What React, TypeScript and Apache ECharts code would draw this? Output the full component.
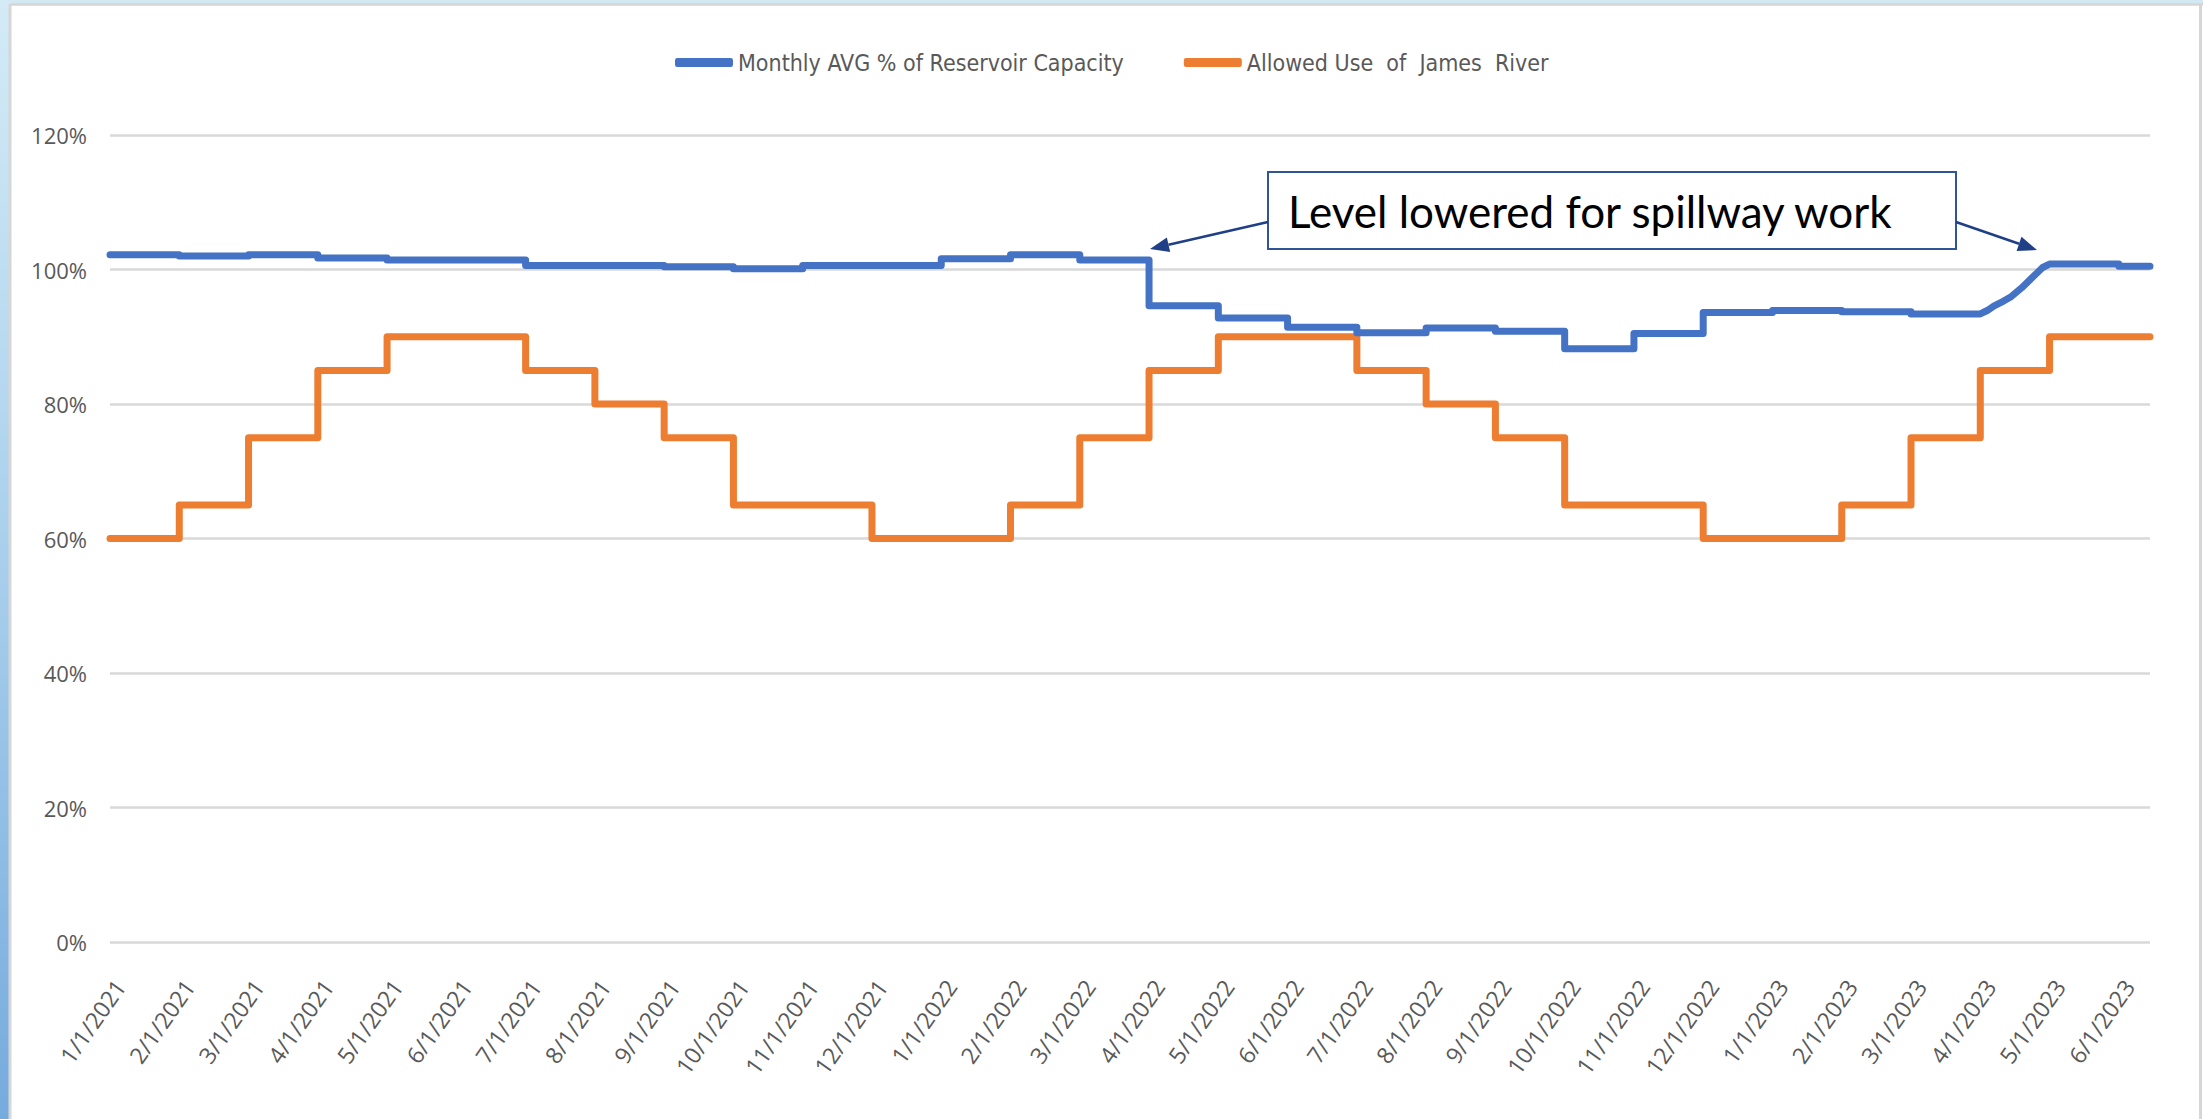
import React, { useEffect, useRef } from "react";
import * as echarts from "echarts";

// x positions are in months since 1/1/2021 (0 = Jan 2021)
const MONTH_LABELS = [
  "1/1/2021", "2/1/2021", "3/1/2021", "4/1/2021", "5/1/2021", "6/1/2021",
  "7/1/2021", "8/1/2021", "9/1/2021", "10/1/2021", "11/1/2021", "12/1/2021",
  "1/1/2022", "2/1/2022", "3/1/2022", "4/1/2022", "5/1/2022", "6/1/2022",
  "7/1/2022", "8/1/2022", "9/1/2022", "10/1/2022", "11/1/2022", "12/1/2022",
  "1/1/2023", "2/1/2023", "3/1/2023", "4/1/2023", "5/1/2023", "6/1/2023",
];

// Monthly AVG % of Reservoir Capacity (null = month drawn from the ramp list)
const RESERVOIR_MONTHLY: (number | null)[] = [
  102.2, 102.0, 102.2, 101.7, 101.4, 101.4, 100.6, 100.6, 100.4, 100.1, 100.6, 100.6,
  101.6, 102.2, 101.4, 94.6, 92.8, 91.4, 90.6, 91.3, 90.8, 88.2, 90.5, 93.6,
  93.9, 93.7, 93.4, null, 100.8, 100.5,
];

// April 2023 refill (month position, %)
const RESERVOIR_APR2023: [number, number][] = [
  [27.0, 93.5], [27.1, 93.9], [27.2, 94.6], [27.3, 95.1], [27.45, 96.0],
  [27.6, 97.3], [27.75, 98.8], [27.9, 100.3], [28.0, 100.8],
];

// Allowed Use of James River (%)
const ALLOWED_MONTHLY: number[] = [
  60, 65, 75, 85, 90, 90, 85, 80, 75, 65, 65, 60,
  60, 65, 75, 85, 90, 90, 85, 80, 75, 65, 65, 60,
  60, 65, 75, 85, 90, 90,
];

const X_END = 29.45; // last day plotted (mid June 2023)
const Y_TICKS = [0, 20, 40, 60, 80, 100, 120];

const SERIES_NAMES = ["Monthly AVG % of Reservoir Capacity", "Allowed Use  of  James  River"];
const ANNOTATION = "Level lowered for spillway work";

function buildSteps(monthly: (number | null)[], ramp: [number, number][] = []) {
  const pts: [number, number][] = [];
  monthly.forEach((v, i) => {
    const end = i === monthly.length - 1 ? X_END : i + 1;
    if (v == null) {
      ramp.forEach((p) => pts.push(p));
      return;
    }
    pts.push([i, v], [end, v]);
  });
  return pts;
}

function arrow(x1: number, y1: number, x2: number, y2: number, color: string) {
  const dx = x2 - x1;
  const dy = y2 - y1;
  const len = Math.sqrt(dx * dx + dy * dy);
  const ux = dx / len;
  const uy = dy / len;
  const nx = -uy;
  const ny = ux;
  const L = 19;
  const W = 7.5;
  const bx = x2 - L * ux;
  const by = y2 - L * uy;
  return [
    {
      type: "line",
      shape: { x1, y1, x2: bx, y2: by },
      style: { stroke: color, lineWidth: 2.5 },
      z: 100,
    },
    {
      type: "polygon",
      shape: {
        points: [
          [x2, y2],
          [bx + W * nx, by + W * ny],
          [bx - W * nx, by - W * ny],
        ],
      },
      style: { fill: color },
      z: 100,
    },
  ];
}

export default function App() {
  const ref = useRef<HTMLDivElement>(null);

  useEffect(() => {
    if (!ref.current) return;
    const chart = echarts.init(ref.current, undefined, { renderer: "svg" });
    const gridLeft = 110;
    const gridTop = 135;
    const gridW = 2040;
    const gridH = 807;
    const arrowColor = "#1f3f86";

    const option: any = {
      animation: false,
      backgroundColor: "#ffffff",
      textStyle: { fontFamily: "'Open Sans', sans-serif" },
      legend: {
        left: 670,
        top: 46,
        itemWidth: 58,
        itemHeight: 9,
        itemGap: 60,
        icon: "roundRect",
        data: SERIES_NAMES,
        textStyle: {
          fontFamily: "'DejaVu Sans Condensed', sans-serif",
          fontSize: 23,
          color: "#595959",
        },
      },
      grid: [
        { left: gridLeft, top: gridTop, width: gridW, height: gridH },
        { left: gridLeft + 10, top: gridTop, width: gridW, height: gridH },
      ],
      xAxis: [
        {
          type: "value",
          gridIndex: 0,
          min: 0,
          max: X_END,
          interval: 1,
          axisLine: { show: false },
          axisTick: { show: false },
          axisLabel: { show: false },
          splitLine: { show: false },
        },
        {
          type: "value",
          gridIndex: 1,
          min: 0,
          max: X_END,
          interval: 1,
          axisLine: { show: false },
          axisTick: { show: false },
          splitLine: { show: false },
          axisLabel: {
            rotate: 55,
            margin: 40,
            fontSize: 23,
            color: "#595959",
            fontFamily: "'Open Sans', sans-serif",
            showMinLabel: true,
            showMaxLabel: true,
            formatter: (v: number) =>
              Math.abs(v - Math.round(v)) < 1e-6 && MONTH_LABELS[Math.round(v)]
                ? MONTH_LABELS[Math.round(v)]
                : "",
          },
        },
      ],
      yAxis: [
        {
          type: "value",
          gridIndex: 0,
          min: Y_TICKS[0],
          max: Y_TICKS[Y_TICKS.length - 1],
          interval: Y_TICKS[1] - Y_TICKS[0],
          axisLine: { show: false },
          axisTick: { show: false },
          axisLabel: {
            margin: 23,
            fontSize: 22,
            color: "#595959",
            formatter: (v: number) => `${v}%`,
          },
          splitLine: { lineStyle: { color: "#d9d9d9", width: 2.5 } },
        },
        {
          type: "value",
          gridIndex: 1,
          min: 0,
          max: 120,
          show: false,
        },
      ],
      series: [
        {
          name: SERIES_NAMES[0],
          type: "line",
          xAxisIndex: 0,
          yAxisIndex: 0,
          showSymbol: false,
          symbol: "none",
          data: buildSteps(RESERVOIR_MONTHLY, RESERVOIR_APR2023),
          lineStyle: { color: "#4472c4", width: 7, cap: "round", join: "round" },
          itemStyle: { color: "#4472c4" },
          z: 3,
        },
        {
          name: SERIES_NAMES[1],
          type: "line",
          xAxisIndex: 0,
          yAxisIndex: 0,
          showSymbol: false,
          symbol: "none",
          data: buildSteps(ALLOWED_MONTHLY),
          lineStyle: { color: "#ed7d31", width: 7, cap: "round", join: "round" },
          itemStyle: { color: "#ed7d31" },
          z: 2,
        },
      ],
      graphic: [
        // slide frame
        {
          type: "rect",
          shape: { x: 0, y: 0, width: 2203, height: 4 },
          style: { fill: "#d2e9f4" },
          z: -10,
        },
        {
          type: "rect",
          shape: { x: 0, y: 0, width: 9, height: 1119 },
          style: {
            fill: new echarts.graphic.LinearGradient(0, 0, 0, 1, [
              { offset: 0, color: "#d4ebf6" },
              { offset: 0.5, color: "#a9cfec" },
              { offset: 1, color: "#76abdd" },
            ]),
          },
          z: -10,
        },
        {
          type: "line",
          shape: { x1: 10, y1: 4.5, x2: 2203, y2: 4.5 },
          style: { stroke: "#d6d6d6", lineWidth: 2.5 },
          z: -9,
        },
        {
          type: "line",
          shape: { x1: 10, y1: 4, x2: 10, y2: 1119 },
          style: { stroke: "#d6d6d6", lineWidth: 3 },
          z: -9,
        },
        {
          type: "line",
          shape: { x1: 2200.5, y1: 4, x2: 2200.5, y2: 1119 },
          style: { stroke: "#d6d6d6", lineWidth: 3 },
          z: -9,
        },
        // annotation box
        {
          type: "rect",
          shape: { x: 1268, y: 172, width: 688, height: 77 },
          style: { fill: "#ffffff", stroke: "#2f5597", lineWidth: 2 },
          z: 100,
        },
        {
          type: "text",
          x: 1288,
          y: 211,
          style: {
            text: ANNOTATION,
            fontFamily: "Lato, sans-serif",
            fontSize: 44,
            fill: "#000000",
            verticalAlign: "middle",
            align: "left",
          },
          z: 101,
        },
        ...arrow(1268, 222, 1150, 249, arrowColor),
        ...arrow(1956, 222, 2037, 250, arrowColor),
      ],
    };

    chart.setOption(option);
    return () => chart.dispose();
  }, []);

  return (
    <div
      ref={ref}
      style={{ position: "fixed", left: 0, top: 0, width: 2203, height: 1119 }}
    />
  );
}
